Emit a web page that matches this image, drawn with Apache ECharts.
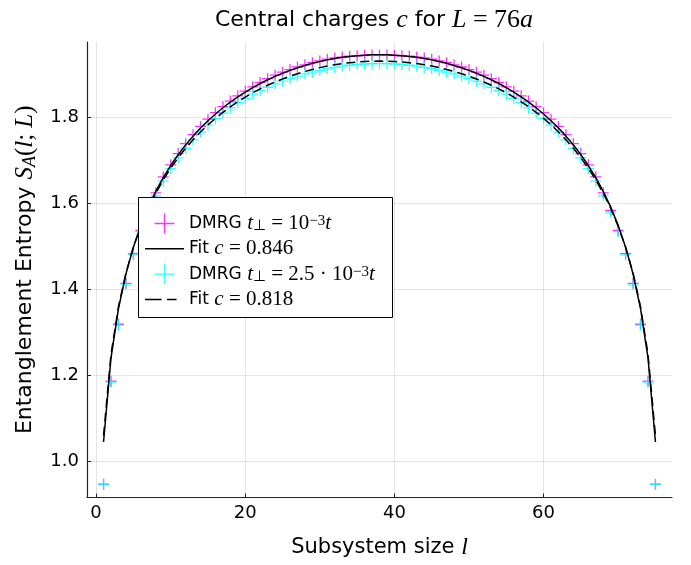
<!DOCTYPE html>
<html><head><meta charset="utf-8">
<script src="https://cdn.jsdelivr.net/npm/echarts@6/dist/echarts.min.js"></script>
<style>html,body{margin:0;padding:0;background:#fff}#c{width:691px;height:565px}</style>
</head><body><div id="c"></div>
<script>
// Subsystem sizes l
const lValues = [1,2,3,4,5,6,7,8,9,10,11,12,13,14,15,16,17,18,19,20,21,22,23,24,25,26,27,28,29,30,31,32,33,34,35,36,37,38,39,40,41,42,43,44,45,46,47,48,49,50,51,52,53,54,55,56,57,58,59,60,61,62,63,64,65,66,67,68,69,70,71,72,73,74,75];
// DMRG t_perp = 1e-3 t (magenta)
const dmrg1 = [0.948,1.187,1.319,1.414,1.483,1.537,1.583,1.624,1.661,1.689,1.715,1.738,1.759,1.778,1.795,1.810,1.824,1.837,1.849,1.860,1.870,1.880,1.889,1.897,1.904,1.910,1.916,1.921,1.926,1.930,1.934,1.937,1.939,1.941,1.942,1.943,1.944,1.944,
  1.944,1.943,1.942,1.941,1.939,1.937,1.934,1.930,1.926,1.921,1.916,1.910,1.904,1.897,1.889,1.880,1.870,1.860,1.849,1.837,1.824,1.810,1.795,1.778,1.759,1.738,1.715,1.689,1.661,1.624,1.583,1.537,1.483,1.414,1.319,1.187,0.948];
// Fit c = 0.846 (solid)
const fit1 = [1.0459,1.2412,1.3551,1.4357,1.4979,1.5484,1.5908,1.6273,1.6591,1.6873,1.7124,1.7351,1.7556,1.7743,1.7914,1.8070,1.8214,1.8346,1.8467,1.8579,1.8682,1.8777,1.8864,1.8943,1.9016,1.9082,1.9142,1.9196,1.9245,1.9288,1.9325,1.9357,1.9384,1.9406,1.9423,1.9435,1.9442,1.9445,
  1.9442,1.9435,1.9423,1.9406,1.9384,1.9357,1.9325,1.9288,1.9245,1.9196,1.9142,1.9082,1.9016,1.8943,1.8864,1.8777,1.8682,1.8579,1.8467,1.8346,1.8214,1.8070,1.7914,1.7743,1.7556,1.7351,1.7124,1.6873,1.6591,1.6273,1.5908,1.5484,1.4979,1.4357,1.3551,1.2412,1.0459];
// DMRG t_perp = 2.5e-3 t (cyan)
const dmrg2 = [0.947,1.185,1.317,1.412,1.480,1.534,1.579,1.617,1.651,1.680,1.705,1.727,1.747,1.765,1.781,1.796,1.809,1.821,1.833,1.843,1.853,1.861,1.869,1.877,1.883,1.889,1.895,1.900,1.904,1.908,1.912,1.915,1.918,1.920,1.922,1.923,1.924,1.924,
  1.924,1.923,1.922,1.920,1.918,1.915,1.912,1.908,1.904,1.900,1.895,1.889,1.883,1.877,1.869,1.861,1.853,1.843,1.833,1.821,1.809,1.796,1.781,1.765,1.747,1.727,1.705,1.680,1.651,1.617,1.579,1.534,1.480,1.412,1.317,1.185,0.947];
// Fit c = 0.818 (dashed)
const fit2 = [1.0609,1.2497,1.3599,1.4378,1.4979,1.5468,1.5878,1.6230,1.6538,1.6810,1.7054,1.7273,1.7471,1.7652,1.7817,1.7968,1.8107,1.8235,1.8352,1.8461,1.8560,1.8652,1.8736,1.8813,1.8883,1.8947,1.9005,1.9057,1.9104,1.9145,1.9182,1.9213,1.9239,1.9260,1.9276,1.9288,1.9295,1.9297,
  1.9295,1.9288,1.9276,1.9260,1.9239,1.9213,1.9182,1.9145,1.9104,1.9057,1.9005,1.8947,1.8883,1.8813,1.8736,1.8652,1.8560,1.8461,1.8352,1.8235,1.8107,1.7968,1.7817,1.7652,1.7471,1.7273,1.7054,1.6810,1.6538,1.6230,1.5878,1.5468,1.4979,1.4378,1.3599,1.2497,1.0609];
const xTicks = [0,20,40,60];
const yTicks = [1.0,1.2,1.4,1.6,1.8];

const SANS = 'DejaVu Sans', SERIF = 'Liberation Serif';
function richSet(fs, mathPlus, lineH) {
  const mf = fs + mathPlus, lh = lineH || (mf + 3), sm = Math.round(mf * 0.7), slh = Math.round(sm * 0.6);
  return {
    s: {fontFamily: SANS, fontSize: fs, fontWeight: 'normal', color: '#000', lineHeight: lh},
    i: {fontFamily: SERIF, fontStyle: 'italic', fontWeight: 'normal', fontSize: mf, color: '#000', lineHeight: lh},
    r: {fontFamily: SERIF, fontWeight: 'normal', fontSize: mf, color: '#000', lineHeight: lh},
    sub: {fontFamily: SERIF, fontSize: sm, fontWeight: 'normal', color: '#000', verticalAlign: 'bottom', lineHeight: slh},
    isub: {fontFamily: SERIF, fontStyle: 'italic', fontSize: sm, fontWeight: 'normal', color: '#000', verticalAlign: 'bottom', lineHeight: slh},
    sup: {fontFamily: SERIF, fontSize: sm, fontWeight: 'normal', color: '#000', verticalAlign: 'top', lineHeight: slh}
  };
}
const zip = (xs, ys) => xs.map((x, k) => [x, ys[k]]);

const PLUS_SYM = 'path://M0,6H12M6,0V12';
const PLUS_ICON = 'path://M0,9.35H20V10.65H0Z M9.35,0H10.65V20H9.35Z';
const LINE_ICON = 'path://M0,0H39V1.5H0Z';
const DASH_ICON = 'path://M0,0H16.5V1.5H0Z M22,0H31.5V1.5H22Z M38.9,0.75H39';

const legendText = {
  d1: '{s|DMRG }{i|t}{sub|⊥}{r| = 10}{sup|−3}{i|t}',
  f1: '{s|Fit }{i|c}{r| = 0.846}',
  d2: '{s|DMRG }{i|t}{sub|⊥}{r| = 2.5 · 10}{sup|−3}{i|t}',
  f2: '{s|Fit }{i|c}{r| = 0.818}'
};

const chart = echarts.init(document.getElementById('c'), null, {renderer: 'canvas'});
chart.setOption({
  animation: false,
  backgroundColor: '#fff',
  title: {
    text: '{s|Central charges }{i|c}{s| for }{i|L}{r| = 76}{i|a}',
    left: 369, top: 1, textAlign: 'center',
    textStyle: {fontWeight: 'normal', rich: richSet(22, 4)}
  },
  grid: {left: 87, top: 42, right: 19, bottom: 67},
  xAxis: {
    type: 'value', min: -1.22, max: 77.22,
    name: '{s|Subsystem size }{i|l}', nameLocation: 'middle', nameGap: 37,
    nameTextStyle: {rich: richSet(21, 3)},
    axisLine: {show: true, onZero: false, lineStyle: {color: '#222', width: 1.2}},
    axisTick: {show: true, inside: true, length: 4, customValues: xTicks, lineStyle: {color: '#222'}},
    axisLabel: {customValues: xTicks, color: '#000', fontFamily: SANS, fontSize: 18, margin: 7},
    splitLine: {show: true, lineStyle: {color: 'rgba(0,0,0,0.1)', width: 1}}
  },
  yAxis: {
    type: 'value', min: 0.917, max: 1.974,
    name: '{s|Entanglement Entropy }{i|S}{isub|A}{r|(}{i|l}{r|; }{i|L}{r|)}', nameLocation: 'middle', nameGap: 48,
    nameTextStyle: {rich: richSet(22, 3)},
    axisLine: {show: true, onZero: false, lineStyle: {color: '#222', width: 1.2}},
    axisTick: {show: true, inside: true, length: 4, customValues: yTicks, lineStyle: {color: '#222'}},
    axisLabel: {customValues: yTicks, color: '#000', fontFamily: SANS, fontSize: 18, margin: 8,
      formatter: v => v.toFixed(1)},
    splitLine: {show: true, lineStyle: {color: 'rgba(0,0,0,0.1)', width: 1}}
  },
  legend: {
    orient: 'vertical', left: 145, top: 213, itemWidth: 39, itemHeight: 20, itemGap: 4.3, padding: 0,
    selectedMode: false, z: 10,
    data: [
      {name: 'd1', icon: PLUS_ICON, itemStyle: {color: '#ff00ff', borderWidth: 0}},
      {name: 'f1', icon: LINE_ICON, itemStyle: {color: '#000', borderWidth: 0}},
      {name: 'd2', icon: PLUS_ICON, itemStyle: {color: '#00ffff', borderWidth: 0}},
      {name: 'f2', icon: DASH_ICON, itemStyle: {color: '#000', borderWidth: 0}}
    ],
    formatter: n => legendText[n],
    textStyle: {rich: richSet(17, 4, 20)}
  },
  graphic: [{
    type: 'rect', z: 8, silent: true,
    shape: {x: 138.5, y: 197.5, width: 254, height: 120},
    style: {fill: '#fff', stroke: '#000', lineWidth: 1}
  }],
  series: [
    {name: 'd1', type: 'scatter', data: zip(lValues, dmrg1), symbol: PLUS_SYM, symbolSize: 11,
      itemStyle: {color: '#ff00ff', borderColor: '#ff00ff', borderWidth: 1.3}},
    {name: 'f1', type: 'line', data: zip(lValues, fit1), showSymbol: false, symbol: 'none',
      itemStyle: {color: '#000'}, lineStyle: {color: '#000', width: 1.5}},
    {name: 'd2', type: 'scatter', data: zip(lValues, dmrg2), symbol: PLUS_SYM, symbolSize: 11,
      itemStyle: {color: '#00ffff', borderColor: '#00ffff', borderWidth: 1.3, opacity: 0.8}},
    {name: 'f2', type: 'line', data: zip(lValues, fit2), showSymbol: false, symbol: 'none',
      itemStyle: {color: '#000'}, lineStyle: {color: '#000', width: 1.5, type: [9, 5]}}
  ]
});
</script>
</body></html>
